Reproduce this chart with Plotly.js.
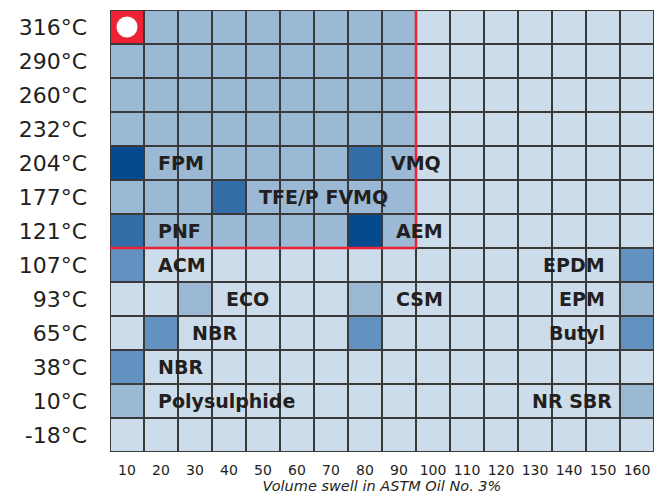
<!DOCTYPE html>
<html><head><meta charset="utf-8">
<script src="https://cdn.plot.ly/plotly-3.0.1.min.js"></script>
<style>html,body{margin:0;padding:0;background:#fff}</style>
</head><body>
<div id="chart" style="width:667px;height:498px"></div>
<script>
// Columns: volume swell (%)
const swell = [10,20,30,40,50,60,70,80,90,100,110,120,130,140,150,160];
// Rows: temperature classes, top to bottom
const temps = ["316°C","290°C","260°C","232°C","204°C","177°C","121°C","107°C","93°C","65°C","38°C","10°C","-18°C"];
// Cell levels: 0 light, 1 medium, 2 mid-dark, 3 dark, 4 darkest, 5 red highlight
const levels = [
  [5,1,1,1,1,1,1,1,1,0,0,0,0,0,0,0],
  [1,1,1,1,1,1,1,1,1,0,0,0,0,0,0,0],
  [1,1,1,1,1,1,1,1,1,0,0,0,0,0,0,0],
  [1,1,1,1,1,1,1,1,1,0,0,0,0,0,0,0],
  [4,1,1,1,1,1,1,3,1,0,0,0,0,0,0,0],
  [1,1,1,3,1,1,1,1,1,0,0,0,0,0,0,0],
  [3,1,1,1,1,1,1,4,1,0,0,0,0,0,0,0],
  [2,0,0,0,0,0,0,0,0,0,0,0,0,0,0,2],
  [0,0,1,0,0,0,0,1,0,0,0,0,0,0,0,1],
  [0,2,0,0,0,0,0,2,0,0,0,0,0,0,0,2],
  [2,0,0,0,0,0,0,0,0,0,0,0,0,0,0,0],
  [1,0,0,0,0,0,0,0,0,0,0,0,0,0,0,1],
  [0,0,0,0,0,0,0,0,0,0,0,0,0,0,0,0]
];
// Material labels
const matNames = ["FPM","TFE/P FVMQ","VMQ","PNF","AEM","ACM","ECO","CSM","NBR","NBR","Polysulphide","EPDM","EPM","Butyl","NR SBR"];
const matRows  = ["204°C","177°C","204°C","121°C","121°C","107°C","93°C","93°C","65°C","38°C","10°C","107°C","93°C","65°C","10°C"];
const matSwell = [18.5,48.2,87.2,18.5,88.4,18.5,38.5,88.4,28.5,18.5,18.5,151.3,151.3,151.3,153.2];
const matAlign = ["left","left","left","left","left","left","left","left","left","left","left","right","right","right","right"];
// Highlighted region: up to this swell column and down to this temperature row
const regionSwell = 90, regionTemp = "121°C";

const palette = ["#cddcea","#9bb8d5","#6392c0","#336ea8","#034b8e","#ee2235"];
const cs = [];
palette.forEach((c,i)=>{cs.push([i/palette.length,c]);cs.push([(i+1)/palette.length,c]);});

const yIdx = temps.map((t,i)=>i);
const rowOf = t => temps.indexOf(t);

const heat = {
  type:"heatmap", x:swell, y:yIdx, z:levels,
  zmin:-0.5, zmax:5.5, colorscale:cs, showscale:false,
  xgap:2, ygap:2, hoverinfo:"skip"
};
const dot = {
  type:"scatter", mode:"markers",
  x:[swell[0]], y:[0],
  marker:{color:"#ffffff", size:21}, hoverinfo:"skip", showlegend:false
};

const step = swell[1]-swell[0];
const rEdgeX = regionSwell + step/2, leftX = swell[0]-step/2;
const bEdgeY = rowOf(regionTemp)+0.5;

const FONT = "'DejaVu Sans', Verdana, sans-serif";
const annotations = matNames.map((n,i)=>({
  x:matSwell[i], y:rowOf(matRows[i]), text:n, showarrow:false,
  xanchor:matAlign[i], yanchor:"middle",
  font:{family:FONT, size:19, color:"#231f20", weight:"bold"}
}));

const layout = {
  width:667, height:498,
  margin:{l:110, r:13, t:10, b:46},
  paper_bgcolor:"#ffffff", plot_bgcolor:"#3a3a3a",
  showlegend:false,
  xaxis:{range:[leftX, swell[swell.length-1]+step/2], tickvals:swell, ticktext:swell.map(String),
    showgrid:false, zeroline:false, ticks:"outside", ticklen:5, tickcolor:"rgba(0,0,0,0)", fixedrange:true,
    tickfont:{family:FONT, size:14, color:"#231f20"},
    title:{text:"Volume swell in ASTM Oil No. 3%", standoff:3,
      font:{family:FONT, size:14.5, color:"#231f20", style:"italic"}}},
  yaxis:{range:[temps.length-0.5,-0.5], tickvals:yIdx, ticktext:temps,
    showgrid:false, zeroline:false, ticks:"", ticklabelstandoff:22,
    tickfont:{family:FONT, size:22, color:"#231f20"}},
  shapes:[
    {type:"line", x0:rEdgeX, x1:rEdgeX, y0:-0.5, y1:bEdgeY, line:{color:"#ee2235", width:2.5}},
    {type:"line", x0:leftX, x1:rEdgeX, y0:bEdgeY, y1:bEdgeY, line:{color:"#ee2235", width:2.5}}
  ],
  annotations:annotations
};
Plotly.newPlot("chart",[heat,dot],layout,{displayModeBar:false, staticPlot:true});
</script>
</body></html>
